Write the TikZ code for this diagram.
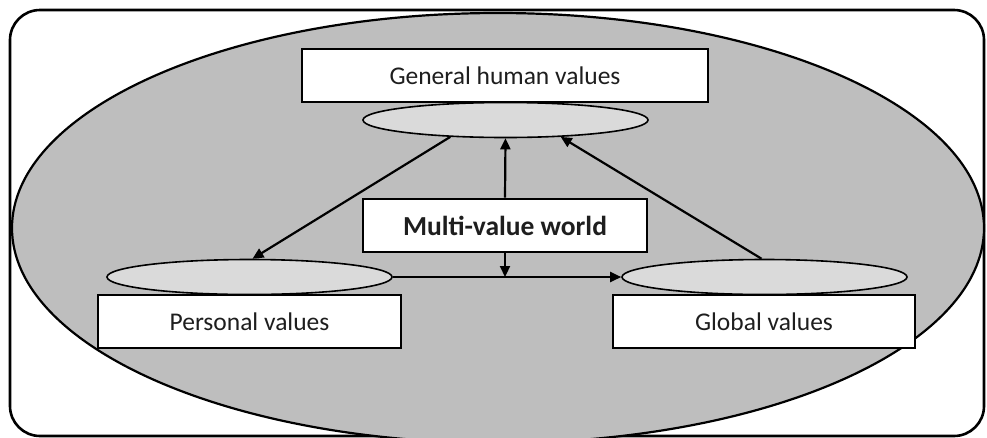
\documentclass[tikz,border=0pt]{standalone}
\usepackage{fontspec}
\setmainfont{Carlito}
\usetikzlibrary{arrows.meta,shapes.geometric}
\definecolor{worldgray}{RGB}{190,190,190}
\definecolor{discgray}{RGB}{218,218,218}
\definecolor{inkgray}{RGB}{30,30,30}
\tikzset{arrow/.style={draw,-{Triangle[length=11pt,width=10pt]},line width=2.2pt,#1}}
\tikzset{arrow/.default={black}}
\tikzset{valbox/.style={draw,fill=white,line width=2.6pt,minimum height=53pt,inner sep=0pt,text=inkgray}}
\tikzset{valdisc/.style={ellipse,draw,fill=discgray,line width=1.6pt,minimum width=285pt,minimum height=35pt,inner sep=0pt}}
\tikzset{font={\fontsize{25.5pt}{29pt}\selectfont}}

\begin{document}
\begin{tikzpicture}[x=1pt,y=-1pt]
        \useasboundingbox (0,0) rectangle (987,437);
        \draw[line width=2.6pt,rounded corners=30pt] (10,10) rectangle (984,436);
        \draw[fill=worldgray,line width=2.2pt] (498,228) ellipse [x radius=486pt,y radius=215pt];
        \foreach \n\x\y\w\t in {gen/505/75.5/406/General human values, per/249.5/321.5/303/Personal values, glo/764/321.5/302/Global values}{
            \node[valbox,minimum width=\w pt] (\n) at (\x,\y) {\t};
        }
        \foreach \n\x\y in {gen/505.5/120, per/249.5/277, glo/764.5/277}{
            \node[valdisc] (\n-e) at (\x,\y) {};
        }
        \node[valbox,minimum width=284pt,font={\fontsize{27.5pt}{31pt}\selectfont\bfseries}] (mvw) at (505,225.5) {Multi-value world};
        \coordinate (mid) at (mvw.south |- per-e.east);
        \path[arrow] (gen-e.197) -- ([xshift=3pt]per-e.north);
        \path[arrow] (mvw.north) -- (gen-e.south);
        \path[arrow] (mvw.south) -- (mid);
        \path[arrow] (per-e.east) -- (glo-e.west);
        \path[arrow] ([xshift=-3pt]glo-e.north) -- (gen-e.343);
    \end{tikzpicture}
\end{document}
